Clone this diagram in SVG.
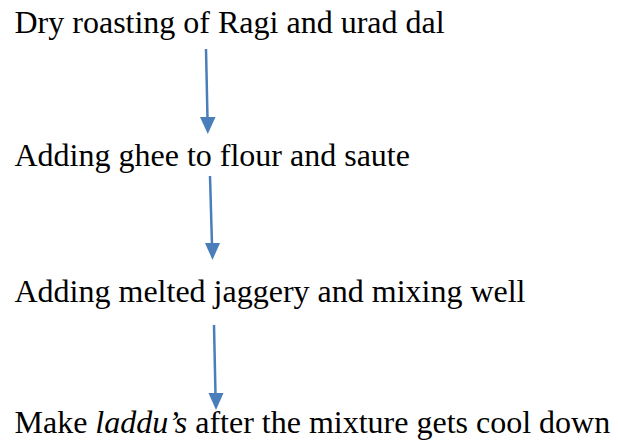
<svg xmlns="http://www.w3.org/2000/svg" width="618" height="443" viewBox="0 0 618 443">
<style>
text{font-family:'Liberation Serif','Times New Roman',serif;font-size:32px;fill:#000}
.c{stroke:#4a7ebb;stroke-width:2.5;fill:none}
.h{fill:#4a7ebb}
</style>
<rect width="618" height="443" fill="#fff"/>
<g id="step1"><text x="14.5" y="33">Dry roasting of Ragi and urad dal</text></g>
<g id="step2"><text x="14.5" y="166">Adding ghee to flour and saute</text></g>
<g id="step3"><text x="14.5" y="302">Adding melted jaggery and mixing well</text></g>
<g id="step4"><text x="14.5" y="433">Make <tspan font-style="italic">laddu’s</tspan> after the mixture gets cool down</text></g>
<g id="connectors">
<line class="c" x1="206" y1="49" x2="207.5" y2="119"/>
<polygon class="h" points="200,117 215.5,117 207.8,134"/>
<line class="c" x1="210" y1="176" x2="212" y2="245"/>
<polygon class="h" points="205,243 220,243 212.5,260"/>
<line class="c" x1="214" y1="325" x2="215.5" y2="395"/>
<polygon class="h" points="208.5,393 223.5,393 216,410"/>
</g>
</svg>
